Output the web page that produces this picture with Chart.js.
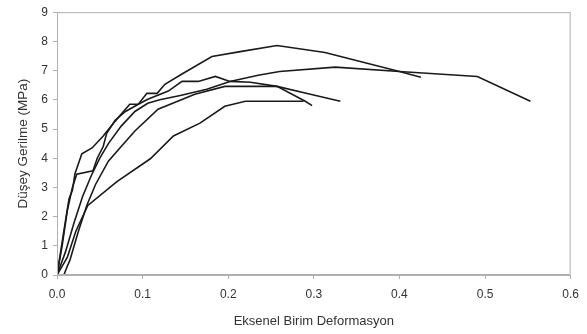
<!DOCTYPE html>
<html>
<head>
<meta charset="utf-8">
<script src="https://cdn.jsdelivr.net/npm/chart.js@4"></script>
<style>
  html, body { margin: 0; padding: 0; background: #fff; }
  #wrap { width: 587px; height: 334px; }
</style>
</head>
<body>
<div id="wrap"><canvas id="chart"></canvas></div>
<script>
// axis ticks
const xTicks = [0.0, 0.1, 0.2, 0.3, 0.4, 0.5, 0.6];
const yTicks = [0, 1, 2, 3, 4, 5, 6, 7, 8, 9];

// sample curves: strain (x) / stress in MPa (y)
const sampleAx = [0, 0.008, 0.014, 0.018, 0.021, 0.029, 0.041, 0.054, 0.068, 0.085, 0.095, 0.105, 0.117, 0.126, 0.147, 0.181, 0.214, 0.257, 0.313, 0.4, 0.425];
const sampleAy = [0, 1.5, 2.6, 2.9, 3.47, 4.15, 4.35, 4.76, 5.27, 5.85, 5.85, 6.22, 6.22, 6.53, 6.9, 7.48, 7.65, 7.86, 7.62, 6.97, 6.77];

const sampleBx = [0, 0.01, 0.02, 0.03, 0.04, 0.05, 0.06, 0.075, 0.091, 0.106, 0.12, 0.144, 0.175, 0.202, 0.235, 0.26, 0.325, 0.4, 0.491, 0.553];
const sampleBy = [0, 0.8, 1.8, 2.7, 3.4, 4.0, 4.5, 5.1, 5.6, 5.88, 6.0, 6.15, 6.36, 6.63, 6.84, 6.97, 7.12, 6.97, 6.8, 5.95];

const sampleCx = [0, 0.006, 0.012, 0.018, 0.023, 0.042, 0.047, 0.054, 0.058, 0.068, 0.08, 0.095, 0.106, 0.13, 0.146, 0.165, 0.185, 0.202, 0.226, 0.257, 0.296, 0.331];
const sampleCy = [0, 1.0, 2.2, 3.0, 3.45, 3.57, 4.0, 4.4, 4.85, 5.3, 5.6, 5.85, 6.02, 6.3, 6.63, 6.63, 6.8, 6.63, 6.6, 6.46, 6.19, 5.95];

const sampleDx = [0.008, 0.012, 0.015, 0.025, 0.035, 0.045, 0.06, 0.075, 0.091, 0.118, 0.161, 0.196, 0.257, 0.29, 0.298];
const sampleDy = [0, 0.3, 0.5, 1.5, 2.4, 3.1, 3.9, 4.4, 4.93, 5.68, 6.19, 6.46, 6.46, 5.95, 5.8];

const sampleEx = [0, 0.012, 0.022, 0.036, 0.07, 0.109, 0.136, 0.167, 0.196, 0.22, 0.288];
const sampleEy = [0, 0.6, 1.5, 2.38, 3.2, 3.98, 4.76, 5.2, 5.78, 5.95, 5.95];

const curves = [
  [sampleAx, sampleAy],
  [sampleBx, sampleBy],
  [sampleCx, sampleCy],
  [sampleDx, sampleDy],
  [sampleEx, sampleEy],
];

const toPoints = (xs, ys) => xs.map((x, i) => ({ x: x, y: ys[i] }));

// grey frame round the plot area
const frame = {
  id: "frame",
  afterDatasetsDraw(chart) {
    const a = chart.chartArea;
    const ctx = chart.ctx;
    ctx.save();
    ctx.strokeStyle = "#b0b0b0";
    ctx.lineWidth = 1;
    ctx.strokeRect(a.left + 0.5, a.top + 0.5, a.right - a.left - 1, a.bottom - a.top - 1);
    ctx.restore();
  },
};

const font = { family: "'Liberation Sans', Arial, sans-serif", size: 12 };

new Chart(document.getElementById("chart"), {
  type: "scatter",
  data: {
    datasets: curves.map(c => ({
      data: toPoints(c[0], c[1]),
      showLine: true,
      borderColor: "#1a1a1a",
      borderWidth: 1.6,
      pointRadius: 0,
      tension: 0,
      fill: false,
    })),
  },
  options: {
    responsive: true,
    maintainAspectRatio: false,
    animation: false,
    layout: { padding: { top: 10, right: 15, left: 0, bottom: 0 } },
    plugins: { legend: { display: false }, tooltip: { enabled: false } },
    scales: {
      x: {
        type: "linear",
        min: 0,
        max: 0.6,
        afterBuildTicks: s => { s.ticks = xTicks.map(v => ({ value: v })); },
        afterFit: s => { s.height = 59; },
        ticks: {
          color: "#333",
          font: font,
          padding: 8,
          callback: v => v.toFixed(1),
        },
        grid: { drawOnChartArea: false, tickLength: 4, color: "#b0b0b0" },
        border: { color: "#b0b0b0" },
        title: {
          display: true,
          text: "Eksenel Birim Deformasyon",
          color: "#333",
          font: { family: font.family, size: 13 },
          padding: { top: 4, bottom: 5 },
        },
      },
      y: {
        type: "linear",
        min: 0,
        max: 9,
        afterBuildTicks: s => { s.ticks = yTicks.map(v => ({ value: v })); },
        afterFit: s => { s.width = 57; },
        ticks: { color: "#333", font: font, padding: 5 },
        grid: { drawOnChartArea: false, tickLength: 4, color: "#b0b0b0" },
        border: { color: "#b0b0b0" },
        title: {
          display: true,
          text: "Düşey Gerilme (MPa)",
          color: "#333",
          font: { family: font.family, size: 13.5 },
          padding: { top: 15, bottom: 4 },
        },
      },
    },
  },
  plugins: [frame],
});
</script>
</body>
</html>
